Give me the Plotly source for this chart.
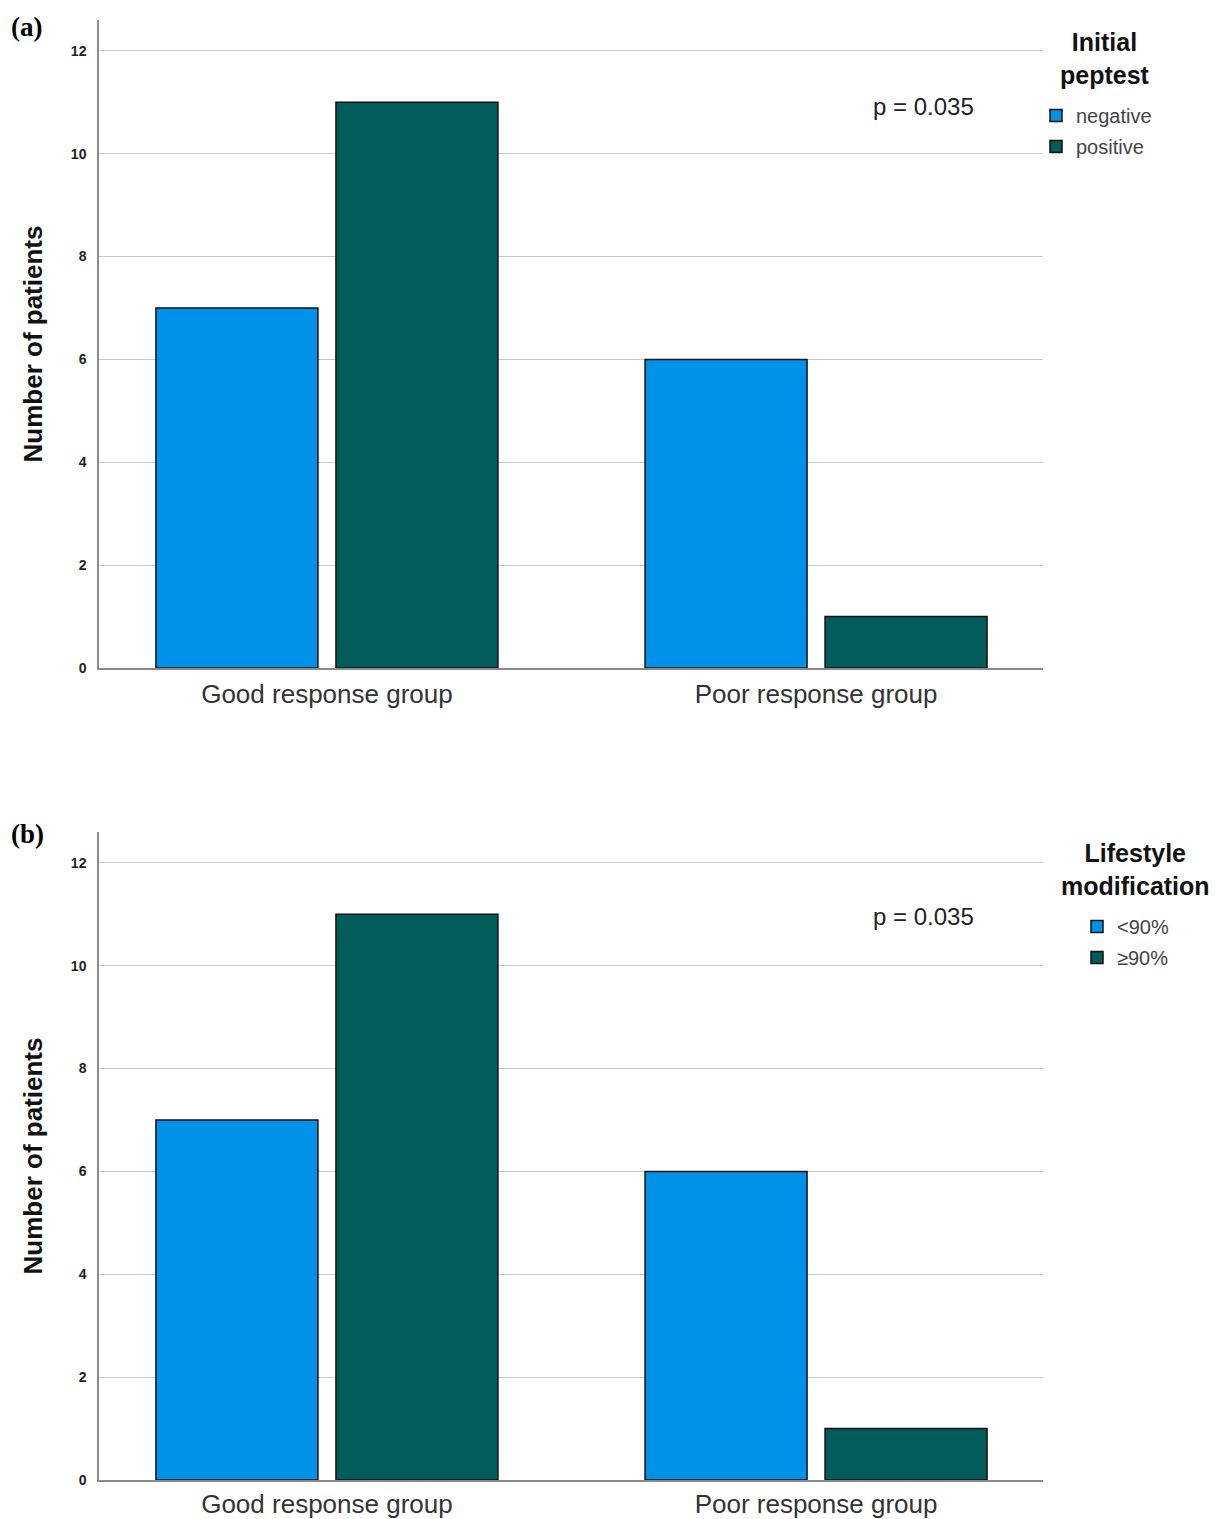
import plotly.graph_objects as go

categories = ["Good response group", "Poor response group"]
cat_pos = [0, 1]

# Panel (a): Initial peptest
a_negative = [7, 6]
a_positive = [11, 1]
# Panel (b): Lifestyle modification
b_lt90 = [7, 6]
b_ge90 = [11, 1]

y_ticks = [0, 2, 4, 6, 8, 10, 12]

BLUE = "rgb(0,145,232)"
GREEN = "rgb(1,92,90)"
W, H = 1229, 1519
OFF = 8  # browser default body margin
FW, FH = W - OFF, H - OFF

def px(x):
    return (x - OFF) / FW

def py(y):
    return (FH - (y - OFF)) / FH

fig = go.Figure()

common_bar = dict(marker_line_color="#111111", marker_line_width=1.5)

fig.add_trace(go.Bar(x=cat_pos, y=a_negative, name="negative", marker_color=BLUE, legendgroup="a1",
                     xaxis="x", yaxis="y", legend="legend", **common_bar))
fig.add_trace(go.Bar(x=cat_pos, y=a_positive, name="positive", marker_color=GREEN, legendgroup="a2",
                     xaxis="x", yaxis="y", legend="legend", **common_bar))
fig.add_trace(go.Bar(x=cat_pos, y=b_lt90, name="<90%", marker_color=BLUE, legendgroup="b1",
                     xaxis="x2", yaxis="y2", legend="legend2", **common_bar))
fig.add_trace(go.Bar(x=cat_pos, y=b_ge90, name="≥90%", marker_color=GREEN, legendgroup="b2",
                     xaxis="x2", yaxis="y2", legend="legend2", **common_bar))

xdom = [px(99), px(1043)]
xr = [-0.466, 1.464]
xaxis_style = dict(domain=xdom, range=xr, tickvals=cat_pos, ticktext=categories,
                   showline=True, linecolor="#8a8a8a", linewidth=1.5, showgrid=False,
                   zeroline=False, ticks="", automargin=False,
                   tickfont=dict(family="Liberation Sans, Arial", size=26, color="#333333"))
yaxis_style = dict(range=[0, 12.6], tickvals=y_ticks, ticktext=[f"<b>{v}</b>" for v in y_ticks],
                   showline=True, linecolor="#8a8a8a",
                   linewidth=1.5, showgrid=True, gridcolor="#c8c8c8", gridwidth=1.2,
                   zeroline=False, ticks="", ticklabelstandoff=8, automargin=False,
                   tickfont=dict(family="Liberation Sans, Arial", size=14, color="#222222"),
                   title=dict(text="<b>Number of patients</b>", standoff=21,
                              font=dict(family="Liberation Sans, Arial", size=26, color="#111111")))

leg_font = dict(family="Liberation Sans, Arial", size=20, color="#444444")
fig.update_layout(
    width=FW, height=FH,
    margin=dict(l=0, r=0, t=0, b=0, autoexpand=False),
    paper_bgcolor="white", plot_bgcolor="white",
    barmode="group", bargap=0.264, bargroupgap=0.1,
    xaxis=dict(anchor="y", ticklabelstandoff=2, **xaxis_style),
    yaxis=dict(anchor="x", domain=[py(668), py(20)], **yaxis_style),
    xaxis2=dict(anchor="y2", ticklabelstandoff=0, **xaxis_style),
    yaxis2=dict(anchor="x2", domain=[py(1480), py(832)], **yaxis_style),
    legend=dict(x=px(1036), y=py(96), xanchor="left", yanchor="top", font=leg_font,
                itemwidth=30, tracegroupgap=2, bgcolor="rgba(0,0,0,0)"),
    legend2=dict(x=px(1077), y=py(907), xanchor="left", yanchor="top", font=leg_font,
                 itemwidth=30, tracegroupgap=2, bgcolor="rgba(0,0,0,0)"),
    showlegend=True,
)

ann_font = dict(family="Liberation Sans, Arial", size=25, color="#111111")
annotations = [
    dict(text="<b>Initial<br>peptest</b>", x=px(1105), y=py(58), xref="paper", yref="paper",
         showarrow=False, font=ann_font, align="center", xanchor="center", yanchor="middle"),
    dict(text="<b>Lifestyle<br>modification</b>", x=px(1135), y=py(869), xref="paper", yref="paper",
         showarrow=False, font=ann_font, align="center", xanchor="center", yanchor="middle"),
    dict(text="p = 0.035", x=px(923), y=py(106), xref="paper", yref="paper", showarrow=False,
         font=dict(family="Liberation Sans, Arial", size=24, color="#222222"),
         xanchor="center", yanchor="middle"),
    dict(text="p = 0.035", x=px(923), y=py(917), xref="paper", yref="paper", showarrow=False,
         font=dict(family="Liberation Sans, Arial", size=24, color="#222222"),
         xanchor="center", yanchor="middle"),
    dict(text="<b>(a)</b>", x=px(9), y=py(27), xref="paper", yref="paper", showarrow=False,
         font=dict(family="Liberation Serif, Times New Roman", size=27, color="#000000"),
         xanchor="left", yanchor="middle"),
    dict(text="<b>(b)</b>", x=px(9), y=py(834), xref="paper", yref="paper", showarrow=False,
         font=dict(family="Liberation Serif, Times New Roman", size=27, color="#000000"),
         xanchor="left", yanchor="middle"),
]
fig.update_layout(annotations=annotations)

fig.write_html("out.html")
